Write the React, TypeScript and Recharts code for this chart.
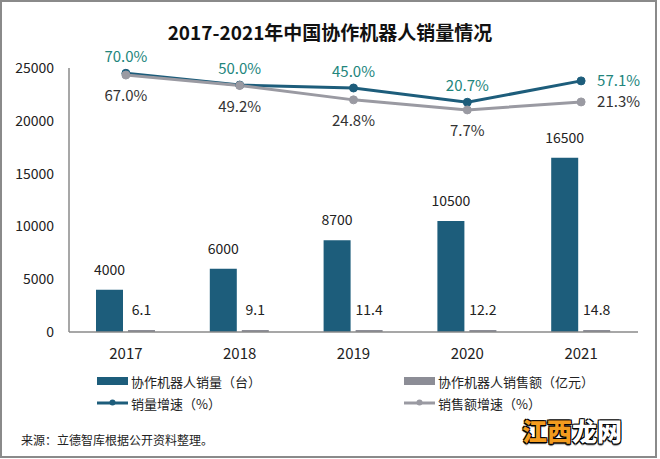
import React from "react";
import { Bar, ComposedChart, LabelList, Line, XAxis, YAxis } from "recharts";

const years = ["2017", "2018", "2019", "2020", "2021"];
const unitSales = [4000, 6000, 8700, 10500, 16500];
const salesAmount = [6.1, 9.1, 11.4, 12.2, 14.8];
const unitGrowth = [70.0, 50.0, 45.0, 20.7, 57.1];
const amountGrowth = [67.0, 49.2, 24.8, 7.7, 21.3];
const leftTicks = [0, 5000, 10000, 15000, 20000, 25000];

const BLUE = "#1d5d7b";
const GRAY_BAR = "#8c8d96";
const GRAY_LINE = "#9a9aa2";
const TEAL_TEXT = "#22857c";
const FONT = '"Noto Sans CJK SC", "Noto Sans", sans-serif';

const data = years.map((year, i) => ({
  year,
  units: unitSales[i],
  amount: salesAmount[i],
  unitGrowth: unitGrowth[i],
  amountGrowth: amountGrowth[i],
}));

const lastIdx = years.length - 1;

function growthLabel(color: string, below: boolean, series: number[]) {
  return (props: any) => {
    const { x, y, value, index } = props;
    const isLast = index === lastIdx || (index === undefined && value === series[lastIdx]);
    const text = `${Number(value).toFixed(1)}%`;
    if (isLast) {
      return (
        <text x={x + 16} y={y + 5} fill={color} fontSize={15} fontFamily={FONT} textAnchor="start">
          {text}
        </text>
      );
    }
    return (
      <text
        x={x}
        y={below ? y + 26 : y - 11}
        fill={color}
        fontSize={15}
        fontFamily={FONT}
        textAnchor="middle"
      >
        {text}
      </text>
    );
  };
}

function LegendRow({ top, left, kind, color, label }: { top: number; left: number; kind: "bar" | "line"; color: string; label: string }) {
  return (
    <div style={{ position: "absolute", top, left, display: "flex", alignItems: "center", height: 18 }}>
      <svg width={32} height={18} style={{ display: "block" }}>
        {kind === "bar" ? (
          <rect x={0} y={5} width={31} height={8} fill={color} />
        ) : (
          <>
            <line x1={0} y1={9} x2={31} y2={9} stroke={color} strokeWidth={3} />
            <circle cx={15.5} cy={8.5} r={3} fill={color} />
          </>
        )}
      </svg>
      <span style={{ fontSize: 13, color: "#222", marginLeft: 2, whiteSpace: "nowrap" }}>{label}</span>
    </div>
  );
}

export default function App() {
  const outline = "-1px -1px 0 #000, 1px -1px 0 #000, -1px 1px 0 #000, 1px 1px 0 #000, 0 2px 1px #555";
  return (
    <div
      style={{
        position: "absolute",
        left: 0,
        top: 0,
        width: 660,
        height: 459,
        background: "#fff",
        fontFamily: FONT,
      }}
    >
      <div
        style={{
          position: "absolute",
          left: 0,
          top: 0,
          width: 657,
          height: 458,
          boxSizing: "border-box",
          border: "2px solid #8a8a8a",
        }}
      />
      <div
        style={{
          position: "absolute",
          top: 18,
          left: 0,
          width: 660,
          textAlign: "center",
          fontSize: 19,
          fontWeight: 700,
          color: "#111",
          lineHeight: "28px",
        }}
      >
        2017-2021年中国协作机器人销量情况
      </div>

      <ComposedChart
        width={660}
        height={459}
        data={data}
        margin={{ top: 68, right: 22, left: 0, bottom: 97 }}
        barSize={27}
        barGap={5}
        style={{ position: "absolute", left: 0, top: 0 }}
      >
        <XAxis
          dataKey="year"
          tickLine={false}
          tickSize={0}
          tickMargin={16}
          axisLine={{ stroke: "#8a8a8a", strokeWidth: 1.5 }}
          tick={{ fill: "#222", fontSize: 15, fontFamily: FONT }}
          height={30}
        />
        <YAxis
          yAxisId="left"
          domain={[0, 25000]}
          ticks={leftTicks}
          width={69}
          tickLine={false}
          tickSize={0}
          tickMargin={15}
          axisLine={{ stroke: "#8a8a8a", strokeWidth: 1.5 }}
          tick={{ fill: "#222", fontSize: 14, fontFamily: FONT }}
          interval={0}
        />
        <YAxis yAxisId="pct" orientation="right" hide domain={[-370, 79]} />
        <Bar yAxisId="left" dataKey="units" fill={BLUE} isAnimationActive={false}>
          <LabelList dataKey="units" position="top" offset={15} fill="#222" fontSize={14} fontFamily={FONT} />
        </Bar>
        <Bar yAxisId="left" dataKey="amount" fill={GRAY_BAR} minPointSize={2} isAnimationActive={false}>
          <LabelList dataKey="amount" position="top" offset={15} fill="#222" fontSize={14} fontFamily={FONT} />
        </Bar>
        <Line
          yAxisId="pct"
          dataKey="unitGrowth"
          stroke={BLUE}
          strokeWidth={3}
          dot={{ r: 4, fill: BLUE, stroke: BLUE, strokeWidth: 1 }}
          isAnimationActive={false}
          label={growthLabel(TEAL_TEXT, false, unitGrowth)}
        />
        <Line
          yAxisId="pct"
          dataKey="amountGrowth"
          stroke={GRAY_LINE}
          strokeWidth={3}
          dot={{ r: 4, fill: GRAY_LINE, stroke: GRAY_LINE, strokeWidth: 1 }}
          isAnimationActive={false}
          label={growthLabel("#333", true, amountGrowth)}
        />
      </ComposedChart>

      <LegendRow top={372} left={97} kind="bar" color={BLUE} label="协作机器人销量（台）" />
      <LegendRow top={372} left={404} kind="bar" color={GRAY_BAR} label="协作机器人销售额（亿元）" />
      <LegendRow top={394} left={97} kind="line" color={BLUE} label="销量增速（%）" />
      <LegendRow top={394} left={404} kind="line" color={GRAY_LINE} label="销售额增速（%）" />

      <div style={{ position: "absolute", left: 21, top: 431, fontSize: 12, color: "#222", whiteSpace: "nowrap" }}>
        来源：立德智库根据公开资料整理。
      </div>

      <div
        style={{
          position: "absolute",
          left: 522,
          top: 412,
          fontSize: 25,
          fontWeight: 900,
          letterSpacing: 0,
          whiteSpace: "nowrap",
          textShadow: outline,
        }}
      >
        <span style={{ color: "#f29b1f" }}>江西</span>
        <span style={{ color: "#fff" }}>龙网</span>
      </div>
    </div>
  );
}
